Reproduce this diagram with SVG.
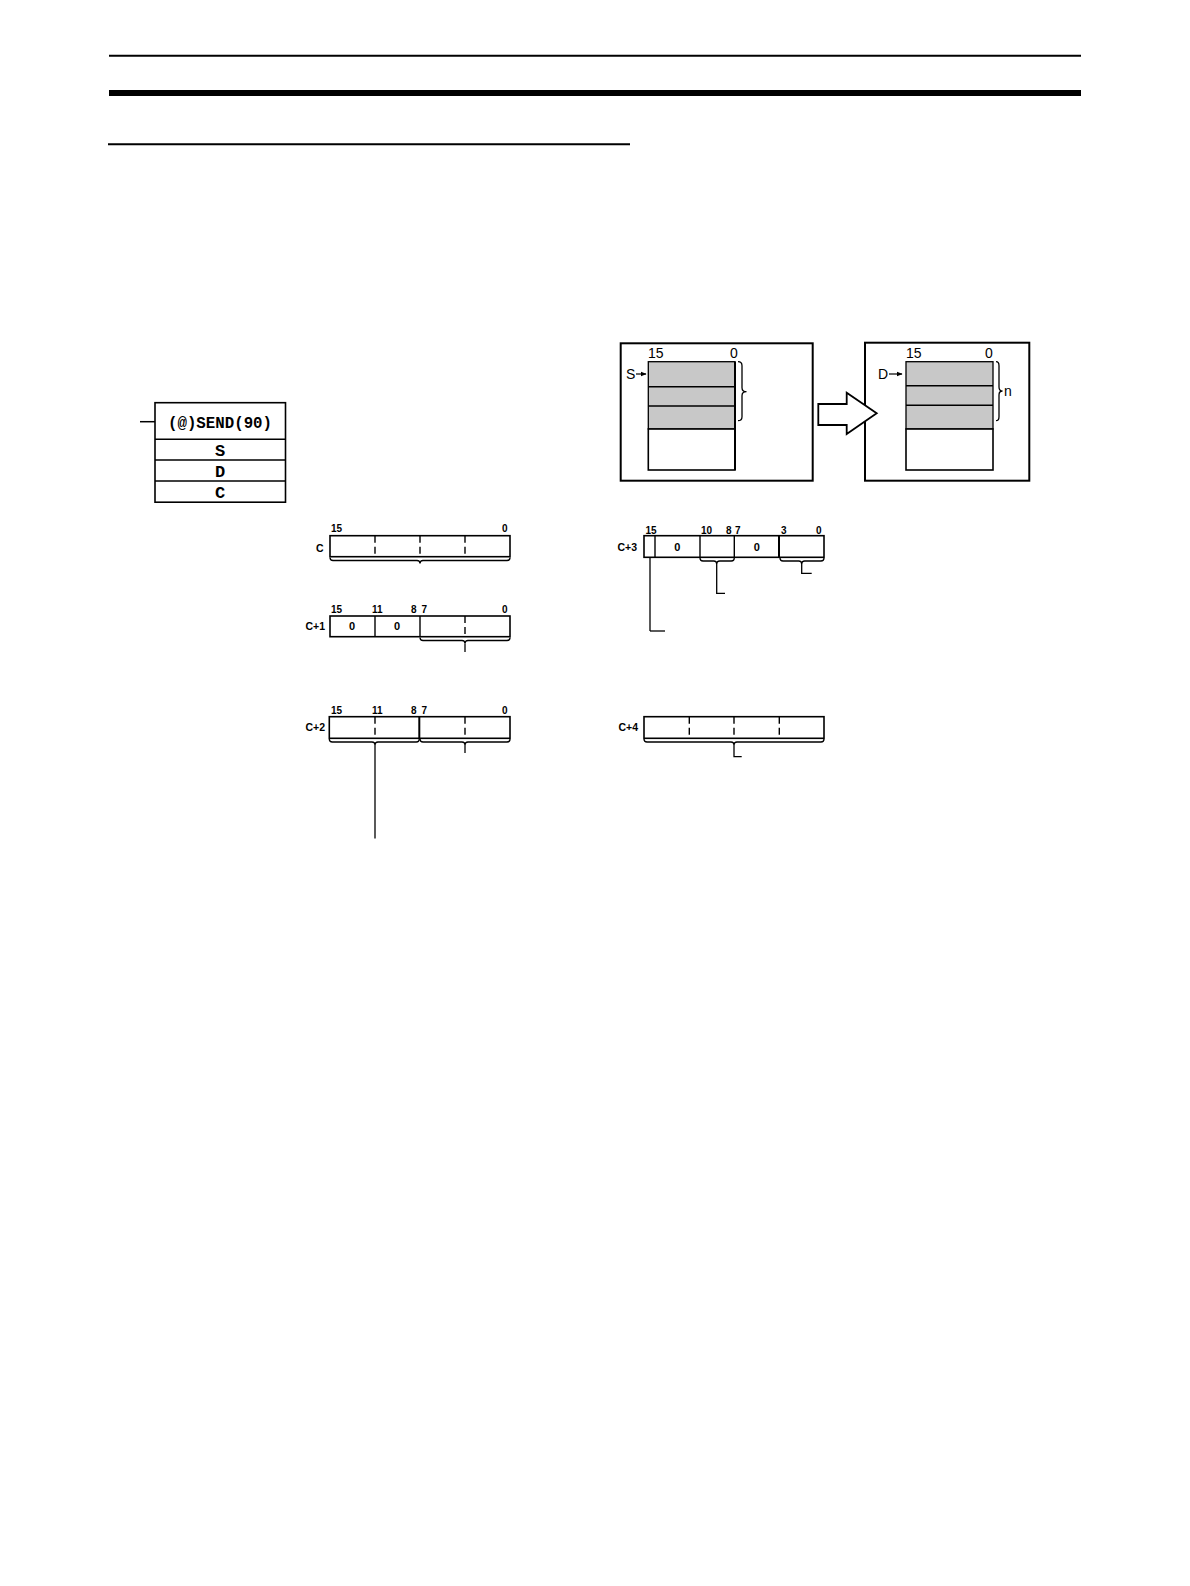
<svg xmlns="http://www.w3.org/2000/svg" width="1190" height="1586" viewBox="0 0 1190 1586">
<style>
.ln{stroke:#000;fill:none}
.reg{stroke:#000;stroke-width:1.6;fill:#fff}
.dash{stroke:#000;stroke-width:1.4;stroke-dasharray:7 4}
.sol{stroke:#000;stroke-width:1.4}
.br{stroke:#000;stroke-width:1.3;fill:none}
.bit{font-family:"Liberation Sans",Arial,sans-serif;font-size:10px;font-weight:bold;fill:#000}
.lab{font-family:"Liberation Sans",Arial,sans-serif;font-size:10.5px;font-weight:bold;fill:#000;text-anchor:end}
.val{font-family:"Liberation Sans",Arial,sans-serif;font-size:11px;font-weight:bold;fill:#000;text-anchor:middle}
.big{font-family:"Liberation Sans",Arial,sans-serif;font-size:14px;fill:#000}
.lad{font-family:"Liberation Mono","DejaVu Sans Mono",monospace;font-weight:bold;fill:#000;text-anchor:middle}
.shade{fill:#c8c8c8;stroke:#000;stroke-width:1.3}
</style>
<defs>
<marker id="ah" viewBox="0 0 10 10" refX="9" refY="5" markerWidth="6" markerHeight="6" orient="auto" markerUnits="userSpaceOnUse"><path d="M0,1 L10,5 L0,9 z" fill="#000"/></marker>
</defs>
<rect width="1190" height="1586" fill="#fff"/>

<g id="header">
<line x1="109" y1="55.7" x2="1081" y2="55.7" stroke="#000" stroke-width="2"/>
<line x1="109" y1="93" x2="1081" y2="93" stroke="#000" stroke-width="6"/>
<line x1="108" y1="144.3" x2="630" y2="144.3" stroke="#000" stroke-width="2"/>
</g>

<g id="ladder">
<line x1="140" y1="421.7" x2="155" y2="421.7" stroke="#000" stroke-width="1.5"/>
<rect x="155" y="402.7" width="130.5" height="99.5" fill="#fff" stroke="#000" stroke-width="1.6"/>
<line x1="155" y1="439.3" x2="285.5" y2="439.3" stroke="#000" stroke-width="1.5"/>
<line x1="155" y1="460" x2="285.5" y2="460" stroke="#000" stroke-width="1.5"/>
<line x1="155" y1="481" x2="285.5" y2="481" stroke="#000" stroke-width="1.5"/>
<text class="lad" x="220" y="428" font-size="16.5" textLength="104" lengthAdjust="spacingAndGlyphs">(@)SEND(90)</text>
<text class="lad" x="220" y="456" font-size="17">S</text>
<text class="lad" x="220" y="476.5" font-size="17">D</text>
<text class="lad" x="220" y="497.5" font-size="17">C</text>
</g>

<g id="source-panel">
<rect x="620.7" y="343.3" width="192" height="137.4" fill="#fff" stroke="#000" stroke-width="2"/>
<rect x="648.3" y="361.7" width="86.7" height="67.3" class="shade"/>
<line x1="648.3" y1="386.7" x2="735" y2="386.7" class="sol"/>
<line x1="648.3" y1="406" x2="735" y2="406" class="sol"/>
<rect x="648.3" y="429" width="86.7" height="41" fill="#fff" stroke="#000" stroke-width="1.6"/>
<line x1="735" y1="361.7" x2="735" y2="470" stroke="#000" stroke-width="2"/>
<text class="big" x="648" y="358">15</text>
<text class="big" x="730" y="358">0</text>
<text class="big" x="626" y="379">S</text>
<line x1="636" y1="374" x2="646" y2="374" stroke="#000" stroke-width="1.2" marker-end="url(#ah)"/>
<path class="br" d="M738,361.7 q4,0 4,4 V387.7 q0,4 4.5,4 q-4.5,0 -4.5,4 V416.7 q0,4 -4,4"/>
</g>

<g id="dest-panel">
<rect x="865" y="342.7" width="164.3" height="138" fill="#fff" stroke="#000" stroke-width="2"/>
<rect x="906" y="361.7" width="87" height="67.3" class="shade"/>
<line x1="906" y1="385.7" x2="993" y2="385.7" class="sol"/>
<line x1="906" y1="405.3" x2="993" y2="405.3" class="sol"/>
<rect x="906" y="429" width="87" height="41" fill="#fff" stroke="#000" stroke-width="1.6"/>
<text class="big" x="906" y="358">15</text>
<text class="big" x="985" y="358">0</text>
<text class="big" x="878" y="379">D</text>
<line x1="889" y1="374" x2="902" y2="374" stroke="#000" stroke-width="1.2" marker-end="url(#ah)"/>
<path class="br" d="M996,361.7 q3,0 3,4 V387 q0,4 3.5,4 q-3.5,0 -3.5,4 V416.7 q0,4 -3,4"/>
<text class="big" x="1004" y="396">n</text>
</g>

<g id="transfer-arrow">
<path d="M818.3,404 H846.7 V392.7 L876.7,413.3 L846.7,434 V425 H818.3 Z" fill="#fff" stroke="#000" stroke-width="1.8" stroke-linejoin="miter"/>
</g>

<g id="reg-C">
<text class="lab" x="323.5" y="552">C</text>
<rect class="reg" x="330" y="535.7" width="180" height="21"/>
<line class="dash" x1="375" y1="535.7" x2="375" y2="556.7"/>
<line class="dash" x1="420" y1="535.7" x2="420" y2="556.7"/>
<line class="dash" x1="465" y1="535.7" x2="465" y2="556.7"/>
<text class="bit" x="331" y="532">15</text>
<text class="bit" x="502" y="532">0</text>
</g>

<g id="reg-C1">
<text class="lab" x="325" y="629.5">C+1</text>
<rect class="reg" x="330" y="616" width="180" height="20.7"/>
<line class="sol" x1="375" y1="616" x2="375" y2="636.7"/>
<line class="sol" x1="420" y1="616" x2="420" y2="636.7"/>
<line class="dash" x1="465" y1="616" x2="465" y2="636.7"/>
<text class="val" x="352" y="629.5">0</text>
<text class="val" x="397" y="629.5">0</text>
<text class="bit" x="331" y="613">15</text>
<text class="bit" x="372" y="613">11</text>
<text class="bit" x="411" y="613">8</text>
<text class="bit" x="421.5" y="613">7</text>
<text class="bit" x="502" y="613">0</text>
</g>

<g id="reg-C2">
<text class="lab" x="325" y="731">C+2</text>
<rect class="reg" x="329.3" y="716.7" width="180.7" height="21.6"/>
<line class="dash" x1="375" y1="716.7" x2="375" y2="738.3"/>
<line x1="419.3" y1="716.7" x2="419.3" y2="738.3" stroke="#000" stroke-width="2"/>
<line class="dash" x1="465" y1="716.7" x2="465" y2="738.3"/>
<text class="bit" x="331" y="714">15</text>
<text class="bit" x="372" y="714">11</text>
<text class="bit" x="411" y="714">8</text>
<text class="bit" x="421.5" y="714">7</text>
<text class="bit" x="502" y="714">0</text>
</g>

<g id="reg-C3">
<text class="lab" x="637" y="550.5">C+3</text>
<rect class="reg" x="644" y="535.7" width="180" height="21.6"/>
<line class="sol" x1="655" y1="535.7" x2="655" y2="557.3"/>
<line class="sol" x1="700" y1="535.7" x2="700" y2="557.3"/>
<line class="sol" x1="734.3" y1="535.7" x2="734.3" y2="557.3"/>
<line x1="779" y1="535.7" x2="779" y2="557.3" stroke="#000" stroke-width="2"/>
<text class="val" x="677.3" y="550.5">0</text>
<text class="val" x="756.7" y="550.5">0</text>
<text class="bit" x="645.5" y="533.5">15</text>
<text class="bit" x="701" y="533.5">10</text>
<text class="bit" x="726" y="533.5">8</text>
<text class="bit" x="735" y="533.5">7</text>
<text class="bit" x="781" y="533.5">3</text>
<text class="bit" x="816" y="533.5">0</text>
</g>

<g id="reg-C4">
<text class="lab" x="638" y="731">C+4</text>
<rect class="reg" x="644" y="716.7" width="180" height="21.6"/>
<line class="dash" x1="689.3" y1="716.7" x2="689.3" y2="738.3"/>
<line class="dash" x1="734" y1="716.7" x2="734" y2="738.3"/>
<line class="dash" x1="779.3" y1="716.7" x2="779.3" y2="738.3"/>
</g>

<g id="connectors">
<path class="br" d="M330,557.5 q0,3 3,3 H417 q3,0 3,3 q0,-3 3,-3 H507 q3,0 3,-3"/>
<path class="br" d="M420,637.5 q0,3 3,3 H462 q3,0 3,3 q0,-3 3,-3 H507 q3,0 3,-3"/>
<line class="br" x1="465" y1="643.5" x2="465" y2="652"/>
<path class="br" d="M329.3,739 q0,3 3,3 H372 q3,0 3,3 q0,-3 3,-3 H416.3 q3,0 3,-3"/>
<line class="br" x1="375" y1="745" x2="375" y2="838.5"/>
<path class="br" d="M420,739 q0,3 3,3 H462 q3,0 3,3 q0,-3 3,-3 H507 q3,0 3,-3"/>
<line class="br" x1="465" y1="745" x2="465" y2="753"/>
<line class="br" x1="650" y1="557.3" x2="650" y2="631"/>
<line class="br" x1="650" y1="631" x2="665" y2="631"/>
<path class="br" d="M700,558 q0,3 3,3 H713.7 q3,0 3,3 q0,-3 3,-3 H731.3 q3,0 3,-3"/>
<path class="br" d="M716.7,564 V593.3 H725"/>
<path class="br" d="M780,558 q0,3 3,3 H798.7 q3,0 3,3 q0,-3 3,-3 H821 q3,0 3,-3"/>
<path class="br" d="M801.7,564 V573.3 H811.7"/>
<path class="br" d="M644,739 q0,3 3,3 H731 q3,0 3,3 q0,-3 3,-3 H821 q3,0 3,-3"/>
<path class="br" d="M734,745 V756.7 H741.7"/>
</g>
</svg>
